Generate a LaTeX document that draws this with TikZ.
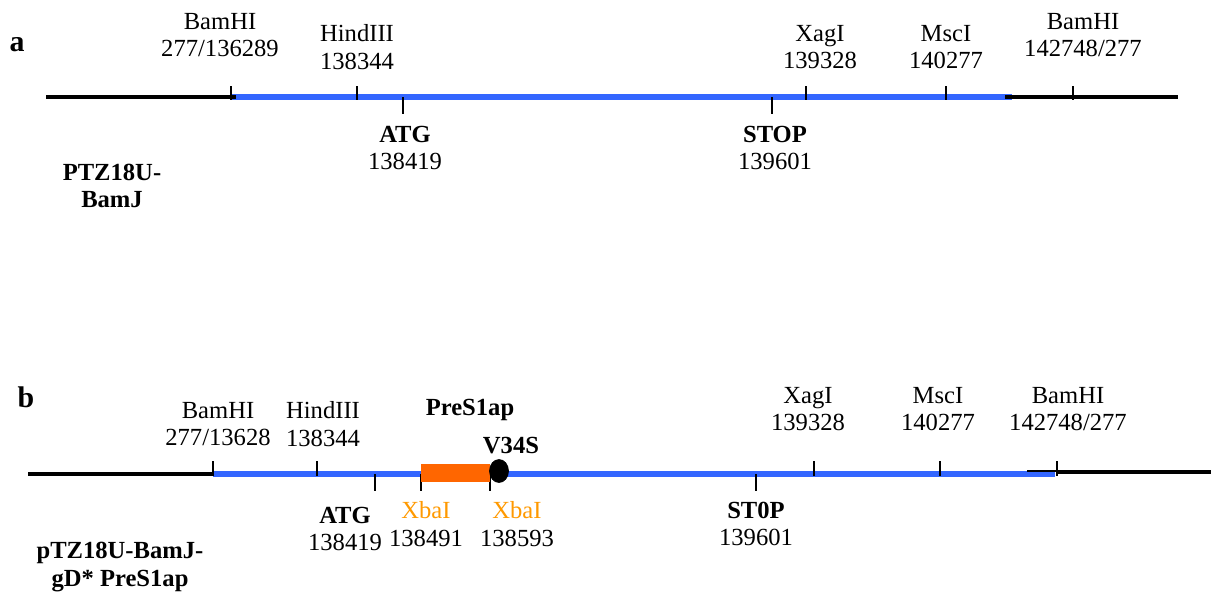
\documentclass[tikz,border=0pt]{standalone}
\usepackage{fontspec}
\setmainfont{Liberation Serif}
\usetikzlibrary{positioning,calc,shapes.geometric}
\definecolor{seqblue}{RGB}{51,102,255}
\definecolor{insorange}{RGB}{255,102,0}
\definecolor{siteorange}{RGB}{255,153,0}

\begin{document}
\begin{tikzpicture}[x=0.02cm, y=-0.02cm,
  lbl/.style={align=center, inner sep=0pt, font=\fontsize{14}{15.5}\selectfont},
  blbl/.style={lbl, font=\fontsize{14}{15.5}\selectfont\bfseries},
  panel/.style={inner sep=0pt, font=\fontsize{17}{18}\selectfont\bfseries},
  vector/.style={line width=2.3pt, black},
  insert/.style={line width=3.3pt, seqblue},
  tick/.style={line width=0.8pt, black}]
\useasboundingbox (0,0) rectangle (1211,595);

% --- a: PTZ18U-BamJ
\node[panel] (pa) at (17,45) {a};
\draw[insert] (232,97) -- (1012,97);
\draw[vector] (46,97) -- (236,97);
\draw[vector] (1005,97) -- (1178,97);
\foreach \x in {231,357,806,946,1073}
  \draw[tick] (\x,86) -- (\x,100);
\foreach \x in {403,772}
  \draw[tick] (\x,97) -- (\x,114);
\node[lbl] (a-bam1) at (220,35) {BamHI\\277/136289};
\node[lbl] (a-hind) at (357,47) {HindIII\\138344};
\node[lbl] (a-xag) at (820,47) {XagI\\139328};
\node[lbl] (a-msc) at (946,47) {MscI\\140277};
\node[lbl] (a-bam2) at (1083,35) {BamHI\\142748/277};
\node[lbl] (a-atg) at (405,148) {\textbf{ATG}\\138419};
\node[lbl] (a-stop) at (775,148) {\textbf{STOP}\\139601};
\node[blbl] (a-name) at (112,186) {PTZ18U-\\BamJ};

% --- b: pTZ18U-BamJ-gD* PreS1ap
\node[panel] (pb) at (26,397) {b};
\draw[insert] (213,474) -- (1055,474);
\draw[vector] (28,474) -- (213,474);
\draw[vector] (1057,472) -- (1211,472);
\draw[tick] (1027,471) -- (1057,471);
\foreach \x in {213,317,814,940,1057}
  \draw[tick] (\x,461) -- (\x,476);
\foreach \x in {375,421,490,756}
  \draw[tick] (\x,474) -- (\x,491);
\draw[line width=10pt, insorange] (421,473) -- (490,473);
\node[draw, fill=black, ellipse, inner sep=0pt,
  minimum width=0.38cm, minimum height=0.46cm] (v34s) at (499,471) {};
\node[lbl] (b-bam1) at (218,424) {BamHI\\277/13628};
\node[lbl] (b-hind) at (323,424) {HindIII\\138344};
\node[blbl] (b-pres) at (470,410) {PreS1ap};
\node[blbl] (b-v34s) at (511,446) {V34S};
\node[lbl] (b-xag) at (808,409) {XagI\\139328};
\node[lbl] (b-msc) at (938,409) {MscI\\140277};
\node[lbl] (b-bam2) at (1068,409) {BamHI\\142748/277};
\node[lbl] (b-atg) at (345,529) {\textbf{ATG}\\138419};
\node[lbl] (b-xba1) at (426,524) {\textcolor{siteorange}{XbaI}\\138491};
\node[lbl] (b-xba2) at (517,524) {\textcolor{siteorange}{XbaI}\\138593};
\node[lbl] (b-stop) at (756,524) {\textbf{ST0P}\\139601};
\node[blbl] (b-name) at (120,567) {pTZ18U-BamJ-\\gD* PreS1ap};
\end{tikzpicture}
\end{document}
